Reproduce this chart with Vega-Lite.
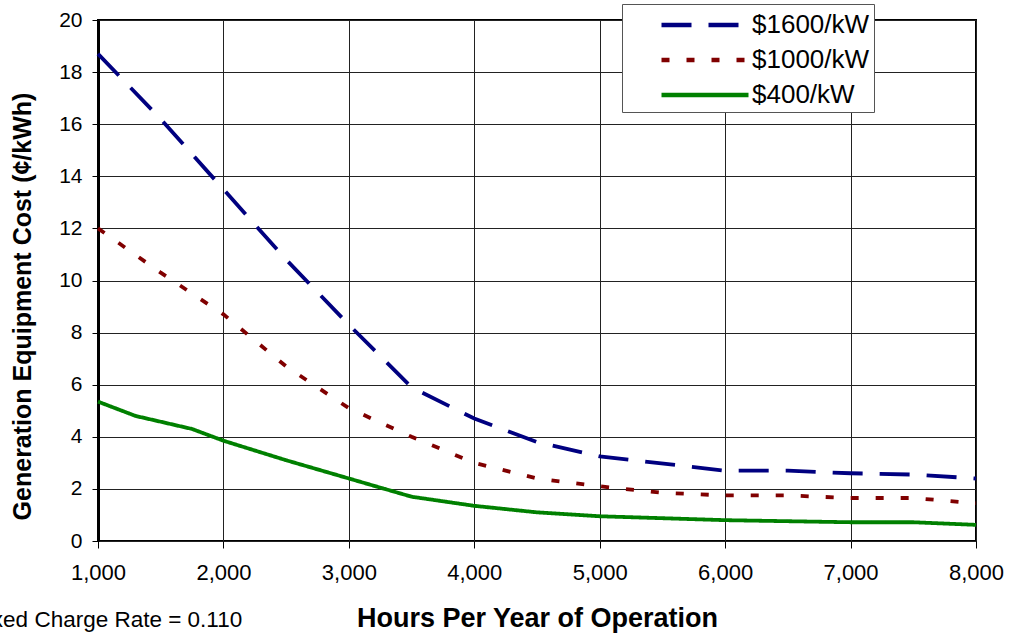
{
  "$schema": "https://vega.github.io/schema/vega-lite/v6.json",
  "width": 878,
  "height": 521,
  "autosize": {"type": "none"},
  "padding": {"left": 98, "top": 20, "right": 34, "bottom": 97},
  "background": "white",
  "config": {
    "font": "Liberation Sans",
    "view": {"stroke": "black", "strokeWidth": 2},
    "axis": {"gridColor": "#222", "gridOpacity": 1, "gridWidth": 1, "tickColor": "black", "domainColor": "black", "labelColor": "black", "titleColor": "black"}
  },
  "data": {"values": [
    {"hours": 1000, "cost": 18.7, "series": "$1600/kW"},
    {"hours": 1500, "cost": 16.2, "series": "$1600/kW"},
    {"hours": 2000, "cost": 13.5, "series": "$1600/kW"},
    {"hours": 2500, "cost": 10.8, "series": "$1600/kW"},
    {"hours": 3000, "cost": 8.3, "series": "$1600/kW"},
    {"hours": 3500, "cost": 5.9, "series": "$1600/kW"},
    {"hours": 4000, "cost": 4.7, "series": "$1600/kW"},
    {"hours": 4500, "cost": 3.8, "series": "$1600/kW"},
    {"hours": 5000, "cost": 3.25, "series": "$1600/kW"},
    {"hours": 6000, "cost": 2.7, "series": "$1600/kW"},
    {"hours": 6500, "cost": 2.7, "series": "$1600/kW"},
    {"hours": 7000, "cost": 2.6, "series": "$1600/kW"},
    {"hours": 7500, "cost": 2.55, "series": "$1600/kW"},
    {"hours": 8000, "cost": 2.4, "series": "$1600/kW"},
    {"hours": 1000, "cost": 12.0, "series": "$1000/kW"},
    {"hours": 1500, "cost": 10.3, "series": "$1000/kW"},
    {"hours": 2000, "cost": 8.7, "series": "$1000/kW"},
    {"hours": 2500, "cost": 6.7, "series": "$1000/kW"},
    {"hours": 3000, "cost": 5.1, "series": "$1000/kW"},
    {"hours": 3500, "cost": 4.0, "series": "$1000/kW"},
    {"hours": 4000, "cost": 3.0, "series": "$1000/kW"},
    {"hours": 4500, "cost": 2.4, "series": "$1000/kW"},
    {"hours": 5000, "cost": 2.1, "series": "$1000/kW"},
    {"hours": 5500, "cost": 1.85, "series": "$1000/kW"},
    {"hours": 6000, "cost": 1.75, "series": "$1000/kW"},
    {"hours": 6500, "cost": 1.75, "series": "$1000/kW"},
    {"hours": 7000, "cost": 1.65, "series": "$1000/kW"},
    {"hours": 7500, "cost": 1.65, "series": "$1000/kW"},
    {"hours": 8000, "cost": 1.45, "series": "$1000/kW"},
    {"hours": 1000, "cost": 5.35, "series": "$400/kW"},
    {"hours": 1300, "cost": 4.8, "series": "$400/kW"},
    {"hours": 1750, "cost": 4.3, "series": "$400/kW"},
    {"hours": 2000, "cost": 3.85, "series": "$400/kW"},
    {"hours": 2500, "cost": 3.1, "series": "$400/kW"},
    {"hours": 3000, "cost": 2.4, "series": "$400/kW"},
    {"hours": 3500, "cost": 1.7, "series": "$400/kW"},
    {"hours": 4000, "cost": 1.35, "series": "$400/kW"},
    {"hours": 4500, "cost": 1.1, "series": "$400/kW"},
    {"hours": 5000, "cost": 0.95, "series": "$400/kW"},
    {"hours": 6000, "cost": 0.8, "series": "$400/kW"},
    {"hours": 7000, "cost": 0.72, "series": "$400/kW"},
    {"hours": 7500, "cost": 0.72, "series": "$400/kW"},
    {"hours": 8000, "cost": 0.62, "series": "$400/kW"}
  ]},
  "layer": [
    {
      "mark": {"type": "line", "strokeWidth": 3.8, "clip": false},
      "encoding": {
        "x": {"field": "hours", "type": "quantitative", "scale": {"domain": [1000, 8000], "nice": false, "zero": false},
          "axis": {"values": [1000, 2000, 3000, 4000, 5000, 6000, 7000, 8000], "format": ",d", "labelFontSize": 22, "labelFlush": false, "labelPadding": 14, "tickSize": 7, "domain": false, "title": "Hours Per Year of Operation", "titleFontSize": 27, "titleFontWeight": "bold", "titlePadding": 22}},
        "y": {"field": "cost", "type": "quantitative", "scale": {"domain": [0, 20], "nice": false},
          "axis": {"values": [0, 2, 4, 6, 8, 10, 12, 14, 16, 18, 20], "format": "d", "labelFontSize": 21, "labelFlush": false, "labelPadding": 10, "tickSize": 6, "domainWidth": 3, "title": "Generation Equipment Cost (¢/kWh)", "titleFontSize": 25, "titleFontWeight": "bold", "titleX": -76, "titleY": 286, "titleBaseline": "middle", "titleAlign": "center", "titleAngle": -90}},
        "color": {"field": "series", "type": "nominal",
          "scale": {"domain": ["$1600/kW", "$1000/kW", "$400/kW"], "range": ["#000080", "#800000", "#008000"]},
          "legend": {"title": null, "orient": "none", "legendX": 524, "legendY": -16, "symbolType": "M-3,0H3", "symbolSize": 841, "symbolStrokeWidth": 4.5, "symbolOffset": 62, "labelFontSize": 26, "labelLimit": 300, "fillColor": "white", "strokeColor": "#555", "padding": 4, "rowPadding": 5, "labelOffset": 30}},
        "strokeDash": {"field": "series", "type": "nominal",
          "scale": {"domain": ["$1600/kW", "$1000/kW", "$400/kW"], "range": [[30, 17], [8, 17], [1, 0]]},
          "legend": null}
      }
    },
    {
      "data": {"values": [{"hours": 2150, "cost": -3.05, "label": "Fixed Charge Rate = 0.110"}]},
      "mark": {"type": "text", "align": "right", "baseline": "middle", "fontSize": 22.5, "clip": false},
      "encoding": {
        "x": {"field": "hours", "type": "quantitative",
          "axis": {"values": [1000, 2000, 3000, 4000, 5000, 6000, 7000, 8000], "format": ",d", "labelFontSize": 22, "labelFlush": false, "labelPadding": 14, "tickSize": 7, "domain": false, "title": "Hours Per Year of Operation", "titleFontSize": 27, "titleFontWeight": "bold", "titlePadding": 22}},
        "y": {"field": "cost", "type": "quantitative",
          "axis": {"values": [0, 2, 4, 6, 8, 10, 12, 14, 16, 18, 20], "format": "d", "labelFontSize": 21, "labelFlush": false, "labelPadding": 10, "tickSize": 6, "domainWidth": 3, "title": "Generation Equipment Cost (¢/kWh)", "titleFontSize": 25, "titleFontWeight": "bold", "titleX": -76, "titleY": 286, "titleBaseline": "middle", "titleAlign": "center", "titleAngle": -90}},
        "text": {"field": "label"}
      }
    }
  ]
}
